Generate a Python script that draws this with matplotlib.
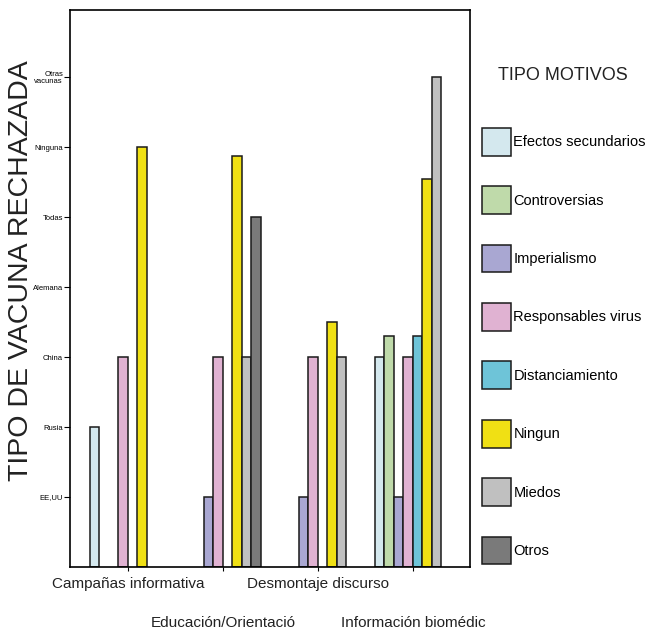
import numpy as np
import matplotlib
matplotlib.use("Agg")
import matplotlib.pyplot as plt

nan = np.nan

categorias = ["Campañas informativa", "Educación/Orientació",
              "Desmontaje discurso", "Información biomédic"]
vacunas = ["EE,UU", "Rusia", "China", "Alemana", "Todas", "Ninguna", "Otras\nvacunas"]

motivos = ["Efectos secundarios", "Controversias", "Imperialismo",
           "Responsables virus", "Distanciamiento", "Ningun", "Miedos", "Otros"]
colores = ["#D4E8EE", "#BFDAAA", "#A9A7D2", "#E0B2D2",
           "#6EC4D8", "#F0E014", "#C0C0C0", "#7A7A7A"]

# valor por categoria (nan = sin barra)
efectos = [2, nan, nan, 3]
controversias = [nan, nan, nan, 3.3]
imperialismo = [nan, 1, 1, 1]
responsables = [3, 3, 3, 3]
distanciamiento = [nan, nan, nan, 3.3]
ningun = [6, 5.87, 3.5, 5.55]
miedos = [nan, 3, 3, 7]
otros = [nan, 5, nan, nan]
series = [efectos, controversias, imperialismo, responsables,
          distanciamiento, ningun, miedos, otros]

plt.rcParams['font.family'] = ['Liberation Sans', 'DejaVu Sans']

fig = plt.figure(figsize=(6.59, 6.33), dpi=100)
ax = fig.add_axes([70/659, 1-567/633, 400/659, 557/633])

x = np.arange(len(categorias))
w = 0.1
handles = []
for i, (vals, nombre, col) in enumerate(zip(series, motivos, colores)):
    vals = np.array(vals, dtype=float)
    ok = ~np.isnan(vals)
    b = ax.bar(x[ok] + (i - 3.5) * w, vals[ok], w, color=col,
               edgecolor="#1a1a1a", linewidth=1.1, label=nombre)
    handles.append(b)

ax.set_xlim(-0.61, 3.6)
ax.set_ylim(0, 7.96)

ax.set_xticks(x)
ax.set_xticklabels(categorias, fontsize=11, color="#222222")
ax.tick_params(axis="x", length=3, direction="out")
for i, t in enumerate(ax.xaxis.get_major_ticks()):
    t.set_pad(4 if i % 2 == 0 else 32)

ax.set_yticks(np.arange(1, 8))
ax.set_yticklabels(vacunas, fontsize=5.5, linespacing=0.9)
ax.tick_params(axis="y", length=4, direction="out", pad=1)

for s in ax.spines.values():
    s.set_linewidth(1.2)

fig.text(21/659, 1-271/633, "TIPO DE VACUNA RECHAZADA", rotation=90,
         fontsize=20.5, ha="center", va="center", color="#222222")

fig.text(563/659, 1-75/633, "TIPO MOTIVOS", fontsize=13,
         ha="center", va="center", color="#222222")
fig.legend(handles, motivos, loc="upper left",
           bbox_to_anchor=(482/659, 1-128/633), frameon=False,
           fontsize=10.5, handlelength=2.0, handleheight=2.55,
           handletextpad=0.15, labelspacing=2.1, borderpad=0,
           borderaxespad=0)

fig.savefig("out.png", dpi=100)
